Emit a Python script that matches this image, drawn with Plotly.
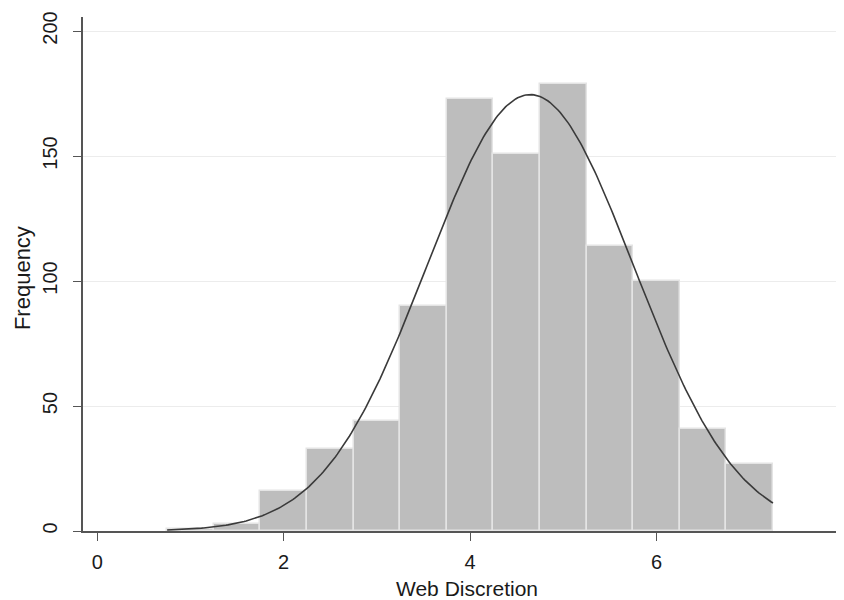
import numpy as np
import plotly.graph_objects as go

# Histogram data (bin width 0.5)
bin_left_edges = [0.75, 1.25, 1.75, 2.25, 2.75, 3.25, 3.75, 4.25, 4.75, 5.25, 5.75, 6.25, 6.75]
bin_width = 0.5
counts = [1, 3, 16, 33, 44, 90, 173, 151, 179, 114, 100, 41, 27]

x_tick_vals = [0, 2, 4, 6, 8]
y_tick_vals = [0, 50, 100, 150, 200]

x_title = "Web Discretion"
y_title = "Frequency"

# Normal curve fitted to the histogram data
edges = np.array(bin_left_edges)
c = np.array(counts, dtype=float)
mids = edges + bin_width / 2
N = c.sum()
mean = (mids * c).sum() / N
sd = np.sqrt(((mids - mean) ** 2 * c).sum() / N)
xc = np.linspace(edges[0], edges[-1] + bin_width, 300)
yc = N * bin_width / (sd * np.sqrt(2 * np.pi)) * np.exp(-0.5 * ((xc - mean) / sd) ** 2)

FONT = "Liberation Sans, Arial, sans-serif"

fig = go.Figure()
fig.add_trace(go.Bar(
    x=bin_left_edges, y=counts, width=bin_width, offset=0,
    marker=dict(color="#bdbdbd", line=dict(color="#e4e4e4", width=1.5)),
    showlegend=False,
))
fig.add_trace(go.Scatter(
    x=xc, y=yc, mode="lines",
    line=dict(color="#3a3a3a", width=1.6),
    showlegend=False,
))

# page has an 8px body margin, so the figure is sized to fit the 844x600 window
fig.update_layout(
    width=836, height=592,
    margin=dict(l=75, r=0, t=9, b=69),
    paper_bgcolor="white", plot_bgcolor="white",
    font=dict(family=FONT, size=20, color="#1a1a1a"),
    bargap=0,
)
fig.update_xaxes(
    range=[-0.153, 8.012], tickvals=x_tick_vals, automargin=False,
    showline=True, linecolor="#555555", linewidth=1.6,
    ticks="outside", ticklen=8, tickwidth=1.4, tickcolor="#555555",
    showgrid=False, zeroline=False,
    ticklabelstandoff=4, ticklabeloverflow="allow",
)
fig.update_yaxes(
    range=[0, 205.6], tickvals=y_tick_vals, tickangle=-90, automargin=False,
    showline=True, linecolor="#555555", linewidth=1.6,
    ticks="outside", ticklen=8, tickwidth=1.4, tickcolor="#555555",
    showgrid=True, gridcolor="#ececec", gridwidth=1.2, zeroline=False,
    ticklabelstandoff=8,
)
fig.add_annotation(
    text=x_title, xref="paper", yref="paper", x=0.5046, y=-0.1128,
    xanchor="center", yanchor="middle", showarrow=False,
    font=dict(size=21, family=FONT, color="#1a1a1a"),
)
fig.add_annotation(
    text=y_title, xref="paper", yref="paper", x=-0.0802, y=0.492,
    xanchor="center", yanchor="middle", showarrow=False, textangle=-90,
    font=dict(size=22, family=FONT, color="#1a1a1a"),
)

fig.write_html("out.html")
